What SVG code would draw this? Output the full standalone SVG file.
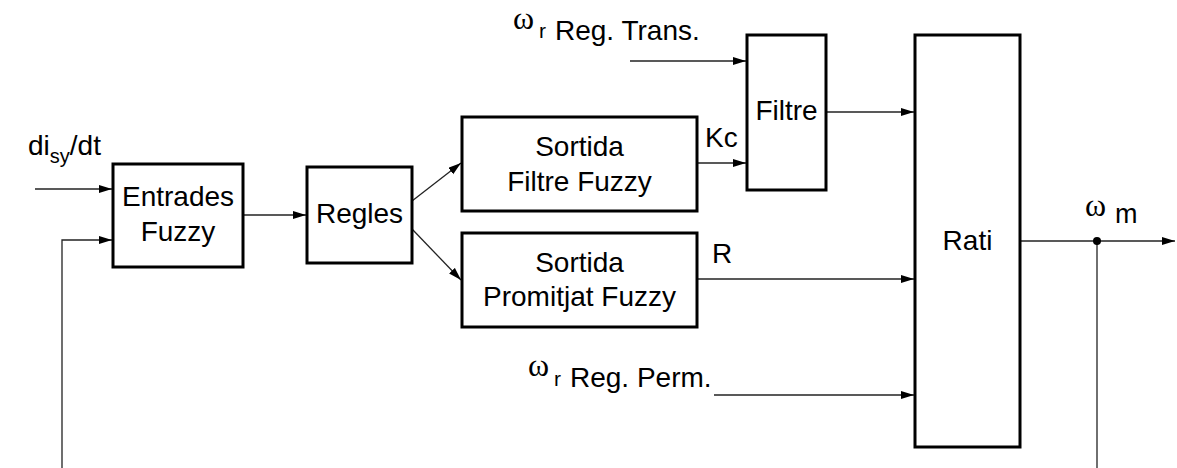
<svg xmlns="http://www.w3.org/2000/svg" width="1177" height="468" viewBox="0 0 1177 468">
<style>
.box{fill:#fff;stroke:#000;stroke-width:3}
.t{font-family:"Liberation Sans",Arial,sans-serif;font-size:28px;fill:#000}
.c{text-anchor:middle}
.sub{font-family:"Liberation Sans",Arial,sans-serif;font-size:21px;fill:#000}
.w{font-family:"Liberation Serif","DejaVu Serif",serif;font-size:32px;fill:#000}
.ln{fill:none;stroke:#222;stroke-width:1.3}
</style>
<defs>
<marker id="ah" markerUnits="userSpaceOnUse" markerWidth="14" markerHeight="10" refX="13" refY="4" orient="auto">
<path d="M0,0 L13,4 L0,8 z" fill="#000"/>
</marker>
</defs>
<g id="connectors">
<line class="ln" x1="35" y1="189" x2="112" y2="189" marker-end="url(#ah)"/>
<polyline class="ln" points="62,468 62,240 112,240" marker-end="url(#ah)"/>
<line class="ln" x1="244" y1="215" x2="306" y2="215" marker-end="url(#ah)"/>
<line class="ln" x1="412" y1="201" x2="461" y2="163" marker-end="url(#ah)"/>
<line class="ln" x1="412" y1="229" x2="461" y2="280" marker-end="url(#ah)"/>
<line class="ln" x1="630" y1="61" x2="746" y2="61" marker-end="url(#ah)"/>
<line class="ln" x1="697" y1="163" x2="746" y2="163" marker-end="url(#ah)"/>
<line class="ln" x1="826" y1="112" x2="914" y2="112" marker-end="url(#ah)"/>
<line class="ln" x1="697" y1="279" x2="914" y2="279" marker-end="url(#ah)"/>
<line class="ln" x1="714" y1="395" x2="914" y2="395" marker-end="url(#ah)"/>
<line class="ln" x1="1020" y1="241" x2="1175" y2="241" marker-end="url(#ah)"/>
<line class="ln" x1="1097" y1="241" x2="1097" y2="468"/>
<circle cx="1097" cy="241" r="4" fill="#000"/>
</g>
<g id="labels">
<text class="t" x="28" y="155">di<tspan class="sub" dy="8" style="font-size:20px">sy</tspan><tspan dy="-8">/dt</tspan></text>
<text class="w" x="513" y="29">ω</text>
<text class="sub" x="539" y="38">r</text>
<text class="t" x="555" y="40">Reg. Trans.</text>
<text class="w" x="528" y="376">ω</text>
<text class="sub" x="554" y="386">r</text>
<text class="t" x="570" y="387">Reg. Perm.</text>
<text class="t" x="705" y="147">Kc</text>
<text class="t" x="712" y="263">R</text>
<text class="w" x="1085" y="216">ω</text>
<text class="t" x="1115" y="223" style="font-size:27px">m</text>
</g>
<g id="entrades">
<rect class="box" x="113" y="164" width="130" height="103"/>
<text class="t c" x="178" y="206">Entrades</text>
<text class="t c" x="178" y="241">Fuzzy</text>
</g>
<g id="regles">
<rect class="box" x="307" y="167" width="105" height="96"/>
<text class="t c" x="359.5" y="223">Regles</text>
</g>
<g id="sortida-filtre">
<rect class="box" x="462" y="117" width="235" height="94"/>
<text class="t c" x="579.5" y="156">Sortida</text>
<text class="t c" x="579.5" y="191">Filtre Fuzzy</text>
</g>
<g id="sortida-promitjat">
<rect class="box" x="462" y="233" width="235" height="94"/>
<text class="t c" x="579.5" y="272">Sortida</text>
<text class="t c" x="579.5" y="306">Promitjat Fuzzy</text>
</g>
<g id="filtre">
<rect class="box" x="747" y="35" width="79" height="155"/>
<text class="t c" x="786.5" y="120">Filtre</text>
</g>
<g id="rati">
<rect class="box" x="915" y="35" width="105" height="412"/>
<text class="t c" x="967.5" y="250">Rati</text>
</g>
</svg>
